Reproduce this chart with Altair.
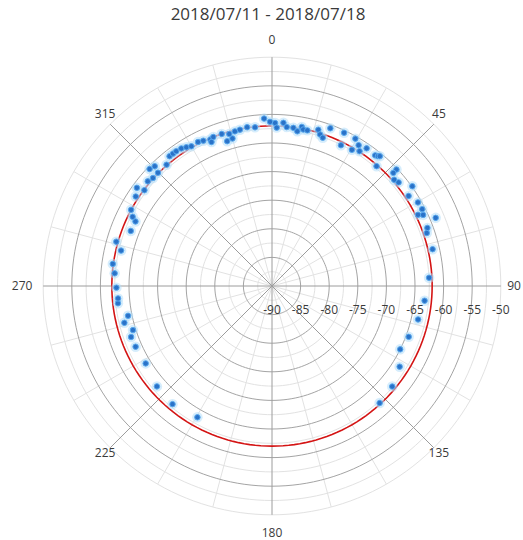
import altair as alt
import pandas as pd

TITLE = "2018/07/11 - 2018/07/18"

# Measurements: bearing in degrees clockwise from north, signal level in dBm
bearing = [
    1.1, 1.7, 4.0, 5.3, 7.7, 9.3, 10.6, 11.3, 12.8, 16.5, 17.6, 18.9, 20.3,
    25.2, 26.1, 29.5, 30.4, 31.6, 33.0, 34.5, 38.3, 39.2, 39.7, 41.1, 46.9,
    47.0, 49.0, 50.7, 54.6, 56.6, 60.2, 62.9, 64.0, 64.8, 67.4, 69.5, 71.1,
    77.1, 87.0, 95.5, 102.9, 110.4, 116.3, 122.3, 129.9, 137.4, 209.6, 220.1,
    228.9, 238.5, 246.0, 250.1, 252.4, 256.0, 258.3, 263.6, 265.4, 269.4,
    274.6, 277.9, 283.2, 285.9, 291.3, 295.3, 296.4, 298.4, 303.3, 306.0,
    306.9, 310.1, 312.2, 313.7, 314.8, 315.6, 319.0, 321.7, 323.2, 324.6,
    326.6, 328.3, 330.0, 332.8, 334.7, 337.2, 337.2, 338.5, 341.7, 342.8,
    344.3, 345.0, 346.5, 348.4, 351.1, 353.9, 357.3, 359.3,
]
level = [
    -61.5, -62.3, -61.4, -62.1, -62.1, -62.6, -61.7, -62.1, -62.1, -61.5, -62.2, -62.6, -60.6,
    -60.4, -62.6, -60.4, -62.4, -61.1, -61.9, -60.8, -60.9, -60.7, -60.5, -62.2, -60.2,
    -61.0, -61.7, -61.4, -59.9, -61.4, -60.6, -60.5, -61.6, -60.8, -59.0, -61.0, -61.4,
    -61.2, -62.5, -63.2, -63.8, -64.5, -65.0, -63.6, -62.6, -62.2, -63.6, -63.0,
    -63.3, -64.1, -63.9, -63.8, -64.5, -63.4, -64.3, -62.9, -63.0, -62.8,
    -62.4, -61.9, -62.9, -61.7, -63.5, -63.6, -62.8, -62.0, -61.5, -60.8,
    -62.1, -61.6, -61.9, -60.4, -61.9, -60.7, -61.9, -61.1, -61.1, -61.1,
    -61.2, -61.5, -61.8, -61.7, -61.9, -62.2, -62.7, -62.0, -62.0, -63.5,
    -62.4, -63.3, -62.2, -62.1, -61.9, -62.1, -60.7, -61.3,
]

# Fitted reference circle level (dBm)
FIT_LEVEL = -62.0

R_MIN, R_MAX = -90, -50
RADIAL_TICKS = [-90, -85, -80, -75, -70, -65, -60, -55, -50]
MAJOR_RINGS = [-85, -80, -75, -70, -65, -60, -55]
MINOR_RINGS = [-87.5, -82.5, -77.5, -72.5, -67.5, -62.5, -57.5, -52.5, -50]
ANGLE_TICKS = [0, 45, 90, 135, 180, 225, 270, 315]
MINOR_SPOKES = [15, 30, 60, 75, 105, 120, 150, 165, 195, 210, 240, 255, 285, 300, 330, 345]

FONT = "Open Sans"
TEXT_COLOR = "#3a3a3a"
W, H = 523, 540
CX, CY = 272, 286
PX = 5.72  # pixels per dB

xs = alt.Scale(domain=[-CX / PX, (W - CX) / PX], range=[0, W], nice=False, zero=False)
ys = alt.Scale(domain=[-(H - CY) / PX, CY / PX], range=[H, 0], nice=False, zero=False)
X = alt.X("px:Q", scale=xs, axis=None)
Y = alt.Y("py:Q", scale=ys, axis=None)


def polar(chart):
    return chart.transform_calculate(
        rr=f"datum.level - ({R_MIN})"
    ).transform_calculate(
        px="datum.rr * sin(datum.deg * PI / 180)",
        py="datum.rr * cos(datum.deg * PI / 180)",
    )


circle_steps = list(range(0, 361, 2))


def ring_frame(levels):
    return pd.DataFrame([(lv, d) for lv in levels for d in circle_steps], columns=["level", "deg"])


minor_rings = polar(alt.Chart(ring_frame(MINOR_RINGS)).mark_line(
    color="#e2e2e2", strokeWidth=1
)).encode(x=X, y=Y, detail="level:N", order="deg:Q")

major_rings = polar(alt.Chart(ring_frame(MAJOR_RINGS)).mark_line(
    color="#a4a4a4", strokeWidth=1
)).encode(x=X, y=Y, detail="level:N", order="deg:Q")

spoke_x0 = alt.X("x0:Q", scale=xs, axis=None)
spoke_y0 = alt.Y("y0:Q", scale=ys, axis=None)

minor_spokes = polar(alt.Chart(pd.DataFrame({"deg": MINOR_SPOKES, "level": R_MAX})).mark_rule(
    color="#e2e2e2", strokeWidth=1
)).transform_calculate(x0="0", y0="0").encode(x=spoke_x0, y=spoke_y0, x2="px:Q", y2="py:Q")

major_spokes = polar(alt.Chart(pd.DataFrame({"deg": ANGLE_TICKS, "level": R_MAX})).mark_rule(
    color="#9c9c9c", strokeWidth=1
)).transform_calculate(x0="0", y0="0").encode(x=spoke_x0, y=spoke_y0, x2="px:Q", y2="py:Q")

fit_circle = polar(alt.Chart(pd.DataFrame({"deg": circle_steps, "level": FIT_LEVEL})).mark_line(
    color="#d41414", strokeWidth=1.6
)).encode(x=X, y=Y, order="deg:Q")

samples = pd.DataFrame({"deg": bearing, "level": level})

halo = polar(alt.Chart(samples).mark_circle(
    color="#b4defa", opacity=0.55, size=110
)).encode(x=X, y=Y)

dots = polar(alt.Chart(samples).mark_point(
    filled=True, fill="#2a72c8", stroke="#58a8ee", strokeWidth=1, size=30, opacity=1
)).encode(x=X, y=Y)

radial_labels = polar(alt.Chart(pd.DataFrame({"level": RADIAL_TICKS, "deg": 90})).mark_text(
    font=FONT, fontSize=12, color=TEXT_COLOR, dy=24, baseline="middle", align="center"
)).transform_calculate(label="'' + datum.level").encode(x=X, y=Y, text="label:N")

# Compass labels sit just outside the outer ring; cardinal ones are pushed out by
# their own extent, upper diagonal ones are lifted slightly above the ring.
angle_labels = alt.Chart(pd.DataFrame({"deg": ANGLE_TICKS})).transform_calculate(
    label="'' + datum.deg",
    rad="datum.deg * PI / 180",
).transform_calculate(
    lr=f"(datum.deg % 90 == 0 ? (datum.deg == 90 ? 242 : 240 + abs(sin(datum.rad)) * length(datum.label) * 3.3 + abs(cos(datum.rad)) * 6.5) : 236) / {PX}",
    lift=f"(datum.deg % 90 != 0 && cos(datum.rad) > 0 ? 5 : 0) / {PX}",
).transform_calculate(
    px="datum.lr * sin(datum.rad)",
    py="datum.lr * cos(datum.rad) + datum.lift",
).mark_text(
    font=FONT, fontSize=12, color=TEXT_COLOR, baseline="middle", align="center"
).encode(x=X, y=Y, text="label:N")

title = alt.Chart(pd.DataFrame({"t": [TITLE]})).mark_text(
    font=FONT, fontSize=17, color=TEXT_COLOR, baseline="middle", align="center"
).encode(x=alt.value(268), y=alt.value(15), text="t:N")

chart = alt.layer(
    minor_rings, minor_spokes, major_rings, major_spokes,
    fit_circle, halo, dots, radial_labels, angle_labels, title,
).properties(
    width=W, height=H, autosize=alt.AutoSizeParams(type="none"), padding=0,
    background="white",
).configure_view(strokeWidth=0)

chart.save("out.html", embed_options={"renderer": "svg", "actions": False})
